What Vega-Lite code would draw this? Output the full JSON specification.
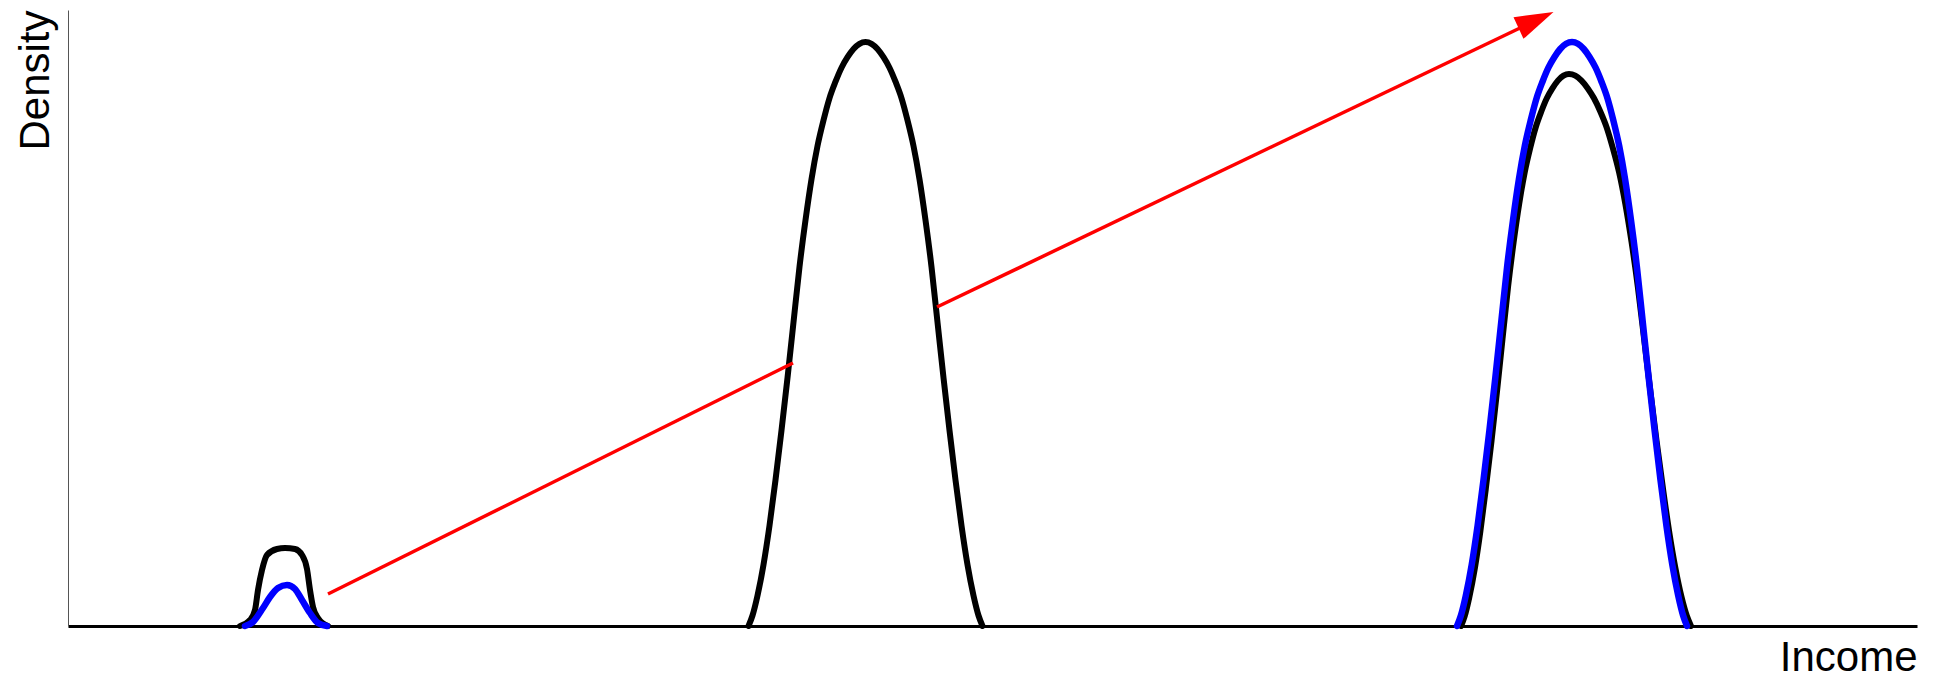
{
  "$schema": "https://vega.github.io/schema/vega-lite/v6.json",
  "width": 1849,
  "height": 616,
  "autosize": {"type": "none"},
  "padding": {"left": 68, "top": 10, "right": 29, "bottom": 52},
  "background": "white",
  "config": {"view": {"stroke": null}, "font": "Liberation Sans"},
  "datasets": {
    "curves": [
      {"series": "A", "part": "low", "income": 172, "density": 0},
      {"series": "A", "part": "low", "income": 182, "density": 6},
      {"series": "A", "part": "low", "income": 187, "density": 16},
      {"series": "A", "part": "low", "income": 190, "density": 36},
      {"series": "A", "part": "low", "income": 194, "density": 56},
      {"series": "A", "part": "low", "income": 199, "density": 71},
      {"series": "A", "part": "low", "income": 209, "density": 77},
      {"series": "A", "part": "low", "income": 217, "density": 78},
      {"series": "A", "part": "low", "income": 227, "density": 77},
      {"series": "A", "part": "low", "income": 234, "density": 71},
      {"series": "A", "part": "low", "income": 239, "density": 57},
      {"series": "A", "part": "low", "income": 242, "density": 36},
      {"series": "A", "part": "low", "income": 245, "density": 19},
      {"series": "A", "part": "low", "income": 250, "density": 8},
      {"series": "A", "part": "low", "income": 260, "density": 0},

      {"series": "A", "part": "mid", "income": 680.5, "density": 0},
      {"series": "A", "part": "mid", "income": 684.5, "density": 10.5},
      {"series": "A", "part": "mid", "income": 689.5, "density": 30.4},
      {"series": "A", "part": "mid", "income": 695.5, "density": 61.3},
      {"series": "A", "part": "mid", "income": 701.5, "density": 100.4},
      {"series": "A", "part": "mid", "income": 707.5, "density": 146},
      {"series": "A", "part": "mid", "income": 713.5, "density": 195.6},
      {"series": "A", "part": "mid", "income": 719.5, "density": 248.2},
      {"series": "A", "part": "mid", "income": 725.5, "density": 303.7},
      {"series": "A", "part": "mid", "income": 731.5, "density": 359.2},
      {"series": "A", "part": "mid", "income": 737.5, "density": 405.9},
      {"series": "A", "part": "mid", "income": 743.5, "density": 446.8},
      {"series": "A", "part": "mid", "income": 749.5, "density": 480},
      {"series": "A", "part": "mid", "income": 755.5, "density": 505.7},
      {"series": "A", "part": "mid", "income": 761.5, "density": 527.9},
      {"series": "A", "part": "mid", "income": 767.5, "density": 544.3},
      {"series": "A", "part": "mid", "income": 773.5, "density": 558.3},
      {"series": "A", "part": "mid", "income": 779.5, "density": 568.8},
      {"series": "A", "part": "mid", "income": 785.5, "density": 577},
      {"series": "A", "part": "mid", "income": 791.5, "density": 582.2},
      {"series": "A", "part": "mid", "income": 797.5, "density": 584},
      {"series": "A", "part": "mid", "income": 803.5, "density": 582.2},
      {"series": "A", "part": "mid", "income": 809.5, "density": 577},
      {"series": "A", "part": "mid", "income": 815.5, "density": 568.8},
      {"series": "A", "part": "mid", "income": 821.5, "density": 558.3},
      {"series": "A", "part": "mid", "income": 827.5, "density": 544.3},
      {"series": "A", "part": "mid", "income": 833.5, "density": 527.9},
      {"series": "A", "part": "mid", "income": 839.5, "density": 505.7},
      {"series": "A", "part": "mid", "income": 845.5, "density": 480},
      {"series": "A", "part": "mid", "income": 851.5, "density": 446.8},
      {"series": "A", "part": "mid", "income": 857.5, "density": 405.9},
      {"series": "A", "part": "mid", "income": 863.5, "density": 359.2},
      {"series": "A", "part": "mid", "income": 869.5, "density": 303.7},
      {"series": "A", "part": "mid", "income": 875.5, "density": 248.2},
      {"series": "A", "part": "mid", "income": 881.5, "density": 195.6},
      {"series": "A", "part": "mid", "income": 887.5, "density": 146},
      {"series": "A", "part": "mid", "income": 893.5, "density": 100.4},
      {"series": "A", "part": "mid", "income": 899.5, "density": 61.3},
      {"series": "A", "part": "mid", "income": 905.5, "density": 30.4},
      {"series": "A", "part": "mid", "income": 910.5, "density": 10.5},
      {"series": "A", "part": "mid", "income": 914.5, "density": 0},

      {"series": "A", "part": "high", "income": 1393, "density": 0},
      {"series": "A", "part": "high", "income": 1396.7, "density": 9.9},
      {"series": "A", "part": "high", "income": 1401.3, "density": 28.7},
      {"series": "A", "part": "high", "income": 1406.9, "density": 58},
      {"series": "A", "part": "high", "income": 1412.4, "density": 94.9},
      {"series": "A", "part": "high", "income": 1417.9, "density": 138},
      {"series": "A", "part": "high", "income": 1423.5, "density": 184.9},
      {"series": "A", "part": "high", "income": 1429, "density": 234.6},
      {"series": "A", "part": "high", "income": 1434.5, "density": 287},
      {"series": "A", "part": "high", "income": 1440.1, "density": 339.5},
      {"series": "A", "part": "high", "income": 1445.6, "density": 383.6},
      {"series": "A", "part": "high", "income": 1451.2, "density": 422.3},
      {"series": "A", "part": "high", "income": 1456.7, "density": 453.7},
      {"series": "A", "part": "high", "income": 1462.2, "density": 478},
      {"series": "A", "part": "high", "income": 1467.8, "density": 499},
      {"series": "A", "part": "high", "income": 1473.3, "density": 514.5},
      {"series": "A", "part": "high", "income": 1478.8, "density": 527.7},
      {"series": "A", "part": "high", "income": 1484.4, "density": 537.6},
      {"series": "A", "part": "high", "income": 1489.9, "density": 545.4},
      {"series": "A", "part": "high", "income": 1495.5, "density": 550.3},
      {"series": "A", "part": "high", "income": 1501, "density": 552},
      {"series": "A", "part": "high", "income": 1507.3, "density": 550.3},
      {"series": "A", "part": "high", "income": 1513.5, "density": 545.4},
      {"series": "A", "part": "high", "income": 1519.8, "density": 537.6},
      {"series": "A", "part": "high", "income": 1526, "density": 527.7},
      {"series": "A", "part": "high", "income": 1532.3, "density": 514.5},
      {"series": "A", "part": "high", "income": 1538.5, "density": 499},
      {"series": "A", "part": "high", "income": 1544.8, "density": 478},
      {"series": "A", "part": "high", "income": 1551.1, "density": 453.7},
      {"series": "A", "part": "high", "income": 1557.3, "density": 422.3},
      {"series": "A", "part": "high", "income": 1563.6, "density": 383.6},
      {"series": "A", "part": "high", "income": 1569.8, "density": 339.5},
      {"series": "A", "part": "high", "income": 1576.1, "density": 287},
      {"series": "A", "part": "high", "income": 1582.4, "density": 234.6},
      {"series": "A", "part": "high", "income": 1588.6, "density": 184.9},
      {"series": "A", "part": "high", "income": 1594.9, "density": 138},
      {"series": "A", "part": "high", "income": 1601.1, "density": 94.9},
      {"series": "A", "part": "high", "income": 1607.4, "density": 58},
      {"series": "A", "part": "high", "income": 1613.6, "density": 28.7},
      {"series": "A", "part": "high", "income": 1618.9, "density": 9.9},
      {"series": "A", "part": "high", "income": 1623, "density": 0},

      {"series": "B", "part": "low", "income": 177, "density": 0},
      {"series": "B", "part": "low", "income": 185, "density": 4},
      {"series": "B", "part": "low", "income": 195, "density": 18},
      {"series": "B", "part": "low", "income": 202, "density": 29},
      {"series": "B", "part": "low", "income": 210, "density": 38},
      {"series": "B", "part": "low", "income": 219, "density": 41},
      {"series": "B", "part": "low", "income": 227, "density": 37},
      {"series": "B", "part": "low", "income": 234, "density": 26},
      {"series": "B", "part": "low", "income": 242, "density": 13},
      {"series": "B", "part": "low", "income": 250, "density": 3},
      {"series": "B", "part": "low", "income": 259, "density": 0},

      {"series": "B", "part": "high", "income": 1389, "density": 0},
      {"series": "B", "part": "high", "income": 1392.9, "density": 10.5},
      {"series": "B", "part": "high", "income": 1397.8, "density": 30.4},
      {"series": "B", "part": "high", "income": 1403.7, "density": 61.3},
      {"series": "B", "part": "high", "income": 1409.6, "density": 100.4},
      {"series": "B", "part": "high", "income": 1415.5, "density": 146},
      {"series": "B", "part": "high", "income": 1421.4, "density": 195.6},
      {"series": "B", "part": "high", "income": 1427.3, "density": 248.2},
      {"series": "B", "part": "high", "income": 1433.2, "density": 303.7},
      {"series": "B", "part": "high", "income": 1439.1, "density": 359.2},
      {"series": "B", "part": "high", "income": 1445, "density": 405.9},
      {"series": "B", "part": "high", "income": 1450.9, "density": 446.8},
      {"series": "B", "part": "high", "income": 1456.8, "density": 480},
      {"series": "B", "part": "high", "income": 1462.7, "density": 505.7},
      {"series": "B", "part": "high", "income": 1468.6, "density": 527.9},
      {"series": "B", "part": "high", "income": 1474.5, "density": 544.3},
      {"series": "B", "part": "high", "income": 1480.4, "density": 558.3},
      {"series": "B", "part": "high", "income": 1486.3, "density": 568.8},
      {"series": "B", "part": "high", "income": 1492.2, "density": 577},
      {"series": "B", "part": "high", "income": 1498.1, "density": 582.2},
      {"series": "B", "part": "high", "income": 1504, "density": 584},
      {"series": "B", "part": "high", "income": 1509.9, "density": 582.2},
      {"series": "B", "part": "high", "income": 1515.8, "density": 577},
      {"series": "B", "part": "high", "income": 1521.7, "density": 568.8},
      {"series": "B", "part": "high", "income": 1527.6, "density": 558.3},
      {"series": "B", "part": "high", "income": 1533.5, "density": 544.3},
      {"series": "B", "part": "high", "income": 1539.4, "density": 527.9},
      {"series": "B", "part": "high", "income": 1545.3, "density": 505.7},
      {"series": "B", "part": "high", "income": 1551.2, "density": 480},
      {"series": "B", "part": "high", "income": 1557.1, "density": 446.8},
      {"series": "B", "part": "high", "income": 1563, "density": 405.9},
      {"series": "B", "part": "high", "income": 1568.9, "density": 359.2},
      {"series": "B", "part": "high", "income": 1574.8, "density": 303.7},
      {"series": "B", "part": "high", "income": 1580.7, "density": 248.2},
      {"series": "B", "part": "high", "income": 1586.6, "density": 195.6},
      {"series": "B", "part": "high", "income": 1592.5, "density": 146},
      {"series": "B", "part": "high", "income": 1598.4, "density": 100.4},
      {"series": "B", "part": "high", "income": 1604.3, "density": 61.3},
      {"series": "B", "part": "high", "income": 1610.2, "density": 30.4},
      {"series": "B", "part": "high", "income": 1615.1, "density": 10.5},
      {"series": "B", "part": "high", "income": 1619, "density": 0}
    ],
    "arrow": [
      {"segment": 1, "income": 260, "density": 32},
      {"segment": 1, "income": 725, "density": 263},
      {"segment": 2, "income": 869, "density": 319},
      {"segment": 2, "income": 1452, "density": 598}
    ],
    "arrowhead": [
      {"income": 1468, "density": 606}
    ]
  },
  "layer": [
    {
      "data": {"name": "curves"},
      "transform": [{"filter": "datum.series === 'A'"}],
      "mark": {"type": "line", "color": "black", "strokeWidth": 6, "interpolate": "monotone", "strokeCap": "round", "strokeJoin": "round"},
      "encoding": {
        "x": {
          "field": "income", "type": "quantitative",
          "scale": {"domain": [0, 1849], "nice": false, "zero": false},
          "axis": {
            "domain": true, "domainColor": "black", "domainWidth": 3,
            "ticks": false, "labels": false, "grid": false,
            "title": "Income", "titleFont": "Liberation Sans", "titleFontSize": 42,
            "titleFontWeight": "normal", "titleColor": "black",
            "titleX": 1849, "titleY": 44, "titleAlign": "right", "titleBaseline": "alphabetic"
          }
        },
        "y": {
          "field": "density", "type": "quantitative",
          "scale": {"domain": [0, 616], "nice": false, "zero": false},
          "axis": {
            "domain": true, "domainColor": "#555555", "domainWidth": 1,
            "ticks": false, "labels": false, "grid": false,
            "title": "Density", "titleFont": "Liberation Sans", "titleFontSize": 42,
            "titleFontWeight": "normal", "titleColor": "black",
            "titleX": -20, "titleY": 0, "titleAngle": 270, "titleAlign": "right", "titleBaseline": "alphabetic"
          }
        },
        "detail": {"field": "part", "type": "nominal"}
      }
    },
    {
      "data": {"name": "curves"},
      "transform": [{"filter": "datum.series === 'B'"}],
      "mark": {"type": "line", "color": "#0000ff", "strokeWidth": 6.5, "interpolate": "monotone", "strokeCap": "round", "strokeJoin": "round"},
      "encoding": {
        "x": {"field": "income", "type": "quantitative"},
        "y": {"field": "density", "type": "quantitative"},
        "detail": {"field": "part", "type": "nominal"}
      }
    },
    {
      "data": {"name": "arrow"},
      "mark": {"type": "line", "color": "#ff0000", "strokeWidth": 3.5},
      "encoding": {
        "x": {"field": "income", "type": "quantitative"},
        "y": {"field": "density", "type": "quantitative"},
        "detail": {"field": "segment", "type": "nominal"}
      }
    },
    {
      "data": {"name": "arrowhead"},
      "mark": {"type": "point", "shape": "M1,0L-1,-0.62L-1,0.62Z", "filled": true, "color": "#ff0000", "opacity": 1, "size": 1482, "angle": 335.4, "strokeWidth": 0},
      "encoding": {
        "x": {"field": "income", "type": "quantitative"},
        "y": {"field": "density", "type": "quantitative"}
      }
    }
  ]
}
